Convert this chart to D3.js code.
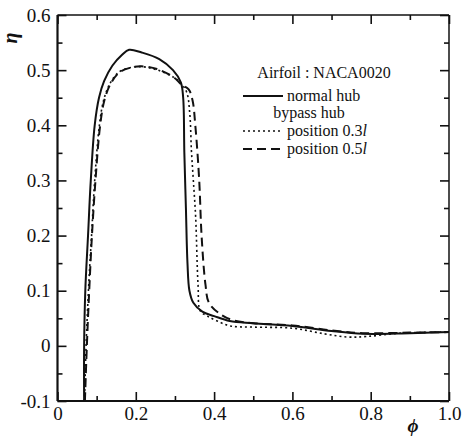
<!DOCTYPE html>
<html>
<head>
<meta charset="utf-8">
<script src="https://cdn.jsdelivr.net/npm/d3@7"></script>
<style>
  body { margin: 0; background: #fff; }
  svg text { font-family: "Liberation Serif", "Times New Roman", serif; fill: #111; }
</style>
</head>
<body>
<div id="chart"></div>
<script>
// x tick labels and y tick labels
var xTicks = [0, 0.2, 0.4, 0.6, 0.8, 1.0];
var xTickLabels = ["0", "0.2", "0.4", "0.6", "0.8", "1.0"];
var yTicks = [-0.1, 0, 0.1, 0.2, 0.3, 0.4, 0.5, 0.6];
var yTickLabels = ["-0.1", "0", "0.1", "0.2", "0.3", "0.4", "0.5", "0.6"];

// normal hub (solid)
var phiNormal = [0.068, 0.068, 0.071, 0.078, 0.085, 0.095, 0.106, 0.119, 0.140, 0.165, 0.183, 0.215, 0.26, 0.295, 0.315, 0.321, 0.324, 0.328, 0.332, 0.337, 0.347, 0.37, 0.40, 0.44, 0.50, 0.60, 0.70, 0.78, 0.90, 1.0];
var etaNormal = [-0.1, 0.0, 0.1, 0.2, 0.3, 0.4, 0.45, 0.48, 0.508, 0.528, 0.537, 0.532, 0.52, 0.50, 0.478, 0.45, 0.35, 0.25, 0.15, 0.1, 0.078, 0.062, 0.054, 0.045, 0.041, 0.036, 0.027, 0.022, 0.023, 0.025];

// bypass hub, position 0.3l (dotted)
var phiPos03 = [0.069, 0.073, 0.079, 0.087, 0.095, 0.107, 0.118, 0.135, 0.158, 0.19, 0.22, 0.256, 0.297, 0.315, 0.330, 0.338, 0.342, 0.347, 0.353, 0.359, 0.365, 0.383, 0.408, 0.442, 0.50, 0.60, 0.68, 0.74, 0.79, 0.875, 1.0];
var etaPos03 = [-0.1, 0.0, 0.1, 0.2, 0.3, 0.4, 0.446, 0.477, 0.497, 0.505, 0.506, 0.50, 0.487, 0.476, 0.46, 0.42, 0.355, 0.30, 0.232, 0.111, 0.063, 0.054, 0.045, 0.036, 0.034, 0.032, 0.022, 0.016, 0.017, 0.023, 0.025];

// bypass hub, position 0.5l (dashed)
var phiPos05 = [0.070, 0.075, 0.081, 0.088, 0.097, 0.109, 0.120, 0.137, 0.16, 0.19, 0.215, 0.254, 0.297, 0.315, 0.335, 0.345, 0.352, 0.362, 0.368, 0.378, 0.387, 0.417, 0.45, 0.50, 0.60, 0.70, 0.78, 0.90, 1.0];
var etaPos05 = [-0.1, 0.0, 0.1, 0.2, 0.3, 0.4, 0.446, 0.477, 0.497, 0.505, 0.507, 0.502, 0.487, 0.475, 0.465, 0.445, 0.40, 0.30, 0.20, 0.111, 0.078, 0.057, 0.046, 0.041, 0.037, 0.028, 0.023, 0.024, 0.025];

var margin = {top: 15, right: 15, bottom: 35, left: 57.5},
    width = 464 - margin.left - margin.right,
    height = 436 - margin.top - margin.bottom;

var svg = d3.select("#chart").append("svg")
    .attr("width", 464)
    .attr("height", 436)
  .append("g")
    .attr("transform", "translate(" + margin.left + "," + margin.top + ")");

var x = d3.scaleLinear().domain([0, 1]).range([0, width]);
var y = d3.scaleLinear().domain([-0.1, 0.6]).range([height, 0]);

// minor ticks
var xMinor = d3.range(0.1, 1, 0.2);
var yMinor = d3.range(-0.05, 0.6, 0.1);

function styleAxis(g) {
    g.attr("font-family", null).attr("font-size", null);
    g.select(".domain").remove();
    g.selectAll(".tick line").attr("stroke", "#111").attr("stroke-width", 1.6);
    g.selectAll(".tick text")
        .style("font-family", "'Liberation Serif', 'Times New Roman', serif")
        .style("font-size", "19px")
        .attr("fill", "#111");
}

// bottom
svg.append("g").attr("transform", "translate(0," + height + ")")
    .call(d3.axisBottom(x).tickValues(xTicks).tickSize(-9).tickPadding(6)
        .tickFormat(function(d, i) { return xTickLabels[i]; }))
    .call(styleAxis);
svg.append("g").attr("transform", "translate(0," + height + ")")
    .call(d3.axisBottom(x).tickValues(xMinor).tickSize(-5).tickFormat(""))
    .call(styleAxis);
// top
svg.append("g")
    .call(d3.axisTop(x).tickValues(xTicks).tickSize(-9).tickFormat(""))
    .call(styleAxis);
svg.append("g")
    .call(d3.axisTop(x).tickValues(xMinor).tickSize(-5).tickFormat(""))
    .call(styleAxis);
// left
svg.append("g")
    .call(d3.axisLeft(y).tickValues(yTicks).tickSize(-9).tickPadding(7)
        .tickFormat(function(d, i) { return yTickLabels[i]; }))
    .call(styleAxis);
svg.append("g")
    .call(d3.axisLeft(y).tickValues(yMinor).tickSize(-5).tickFormat(""))
    .call(styleAxis);
// right
svg.append("g").attr("transform", "translate(" + width + ",0)")
    .call(d3.axisRight(y).tickValues(yTicks).tickSize(-9).tickFormat(""))
    .call(styleAxis);
svg.append("g").attr("transform", "translate(" + width + ",0)")
    .call(d3.axisRight(y).tickValues(yMinor).tickSize(-5).tickFormat(""))
    .call(styleAxis);

// frame
svg.append("line").attr("x1", 0).attr("x2", width).attr("y1", 0).attr("y2", 0)
    .attr("stroke", "#111").attr("stroke-width", 1.5);
svg.append("line").attr("x1", width).attr("x2", width).attr("y1", 0).attr("y2", height)
    .attr("stroke", "#111").attr("stroke-width", 1.5);
svg.append("line").attr("x1", 0).attr("x2", width).attr("y1", height).attr("y2", height)
    .attr("stroke", "#111").attr("stroke-width", 2.2);
svg.append("line").attr("x1", 0).attr("x2", 0).attr("y1", 0).attr("y2", height)
    .attr("stroke", "#111").attr("stroke-width", 2.2);

// curves
var line = d3.line()
    .x(function(d) { return x(d[0]); })
    .y(function(d) { return y(d[1]); })
    .curve(d3.curveCatmullRom.alpha(0.5));

var series = [
    {phi: phiNormal, eta: etaNormal, dash: null, w: 2},
    {phi: phiPos03, eta: etaPos03, dash: "2,3", w: 1.6},
    {phi: phiPos05, eta: etaPos05, dash: "9,5", w: 2}
];

series.forEach(function(s) {
    var pts = s.phi.map(function(p, i) { return [p, s.eta[i]]; });
    svg.append("path")
        .datum(pts)
        .attr("fill", "none")
        .attr("stroke", "#111")
        .attr("stroke-width", s.w)
        .attr("stroke-dasharray", s.dash)
        .attr("d", line);
});

// axis titles
svg.append("text")
    .attr("transform", "translate(" + (17 - margin.left) + "," + (38 - margin.top) + ") rotate(-90)")
    .style("font-size", "20px")
    .style("font-weight", "bold")
    .style("font-style", "italic")
    .style("text-anchor", "middle")
    .text("η");

svg.append("text")
    .attr("x", 413 - margin.left)
    .attr("y", 432 - margin.top)
    .style("font-size", "19px")
    .style("font-weight", "bold")
    .style("font-style", "italic")
    .style("text-anchor", "middle")
    .text("ϕ");

// legend
var leg = svg.append("g").attr("transform", "translate(" + (-margin.left) + "," + (-margin.top) + ")");
leg.append("text").attr("x", 324).attr("y", 78).style("font-size", "16px")
    .style("text-anchor", "middle").text("Airfoil : NACA0020");

var legItems = [
    {y: 96, dash: null, w: 2, label: "normal hub"},
    {y: 131, dash: "2,3", w: 1.4, label: "position 0.3"},
    {y: 149, dash: "9,5", w: 2, label: "position 0.5"}
];
legItems.forEach(function(d) {
    leg.append("line").attr("x1", 243).attr("x2", 283).attr("y1", d.y).attr("y2", d.y)
        .attr("stroke", "#111").attr("stroke-width", d.w).attr("stroke-dasharray", d.dash);
    var t = leg.append("text").attr("x", 287).attr("y", d.y + 5).style("font-size", "16px");
    t.append("tspan").text(d.label);
    if (d.label !== "normal hub") {
        t.append("tspan").style("font-style", "italic").text("l");
    }
});
leg.append("text").attr("x", 309).attr("y", 118).style("font-size", "16px")
    .style("text-anchor", "middle").text("bypass hub");
</script>
</body>
</html>
